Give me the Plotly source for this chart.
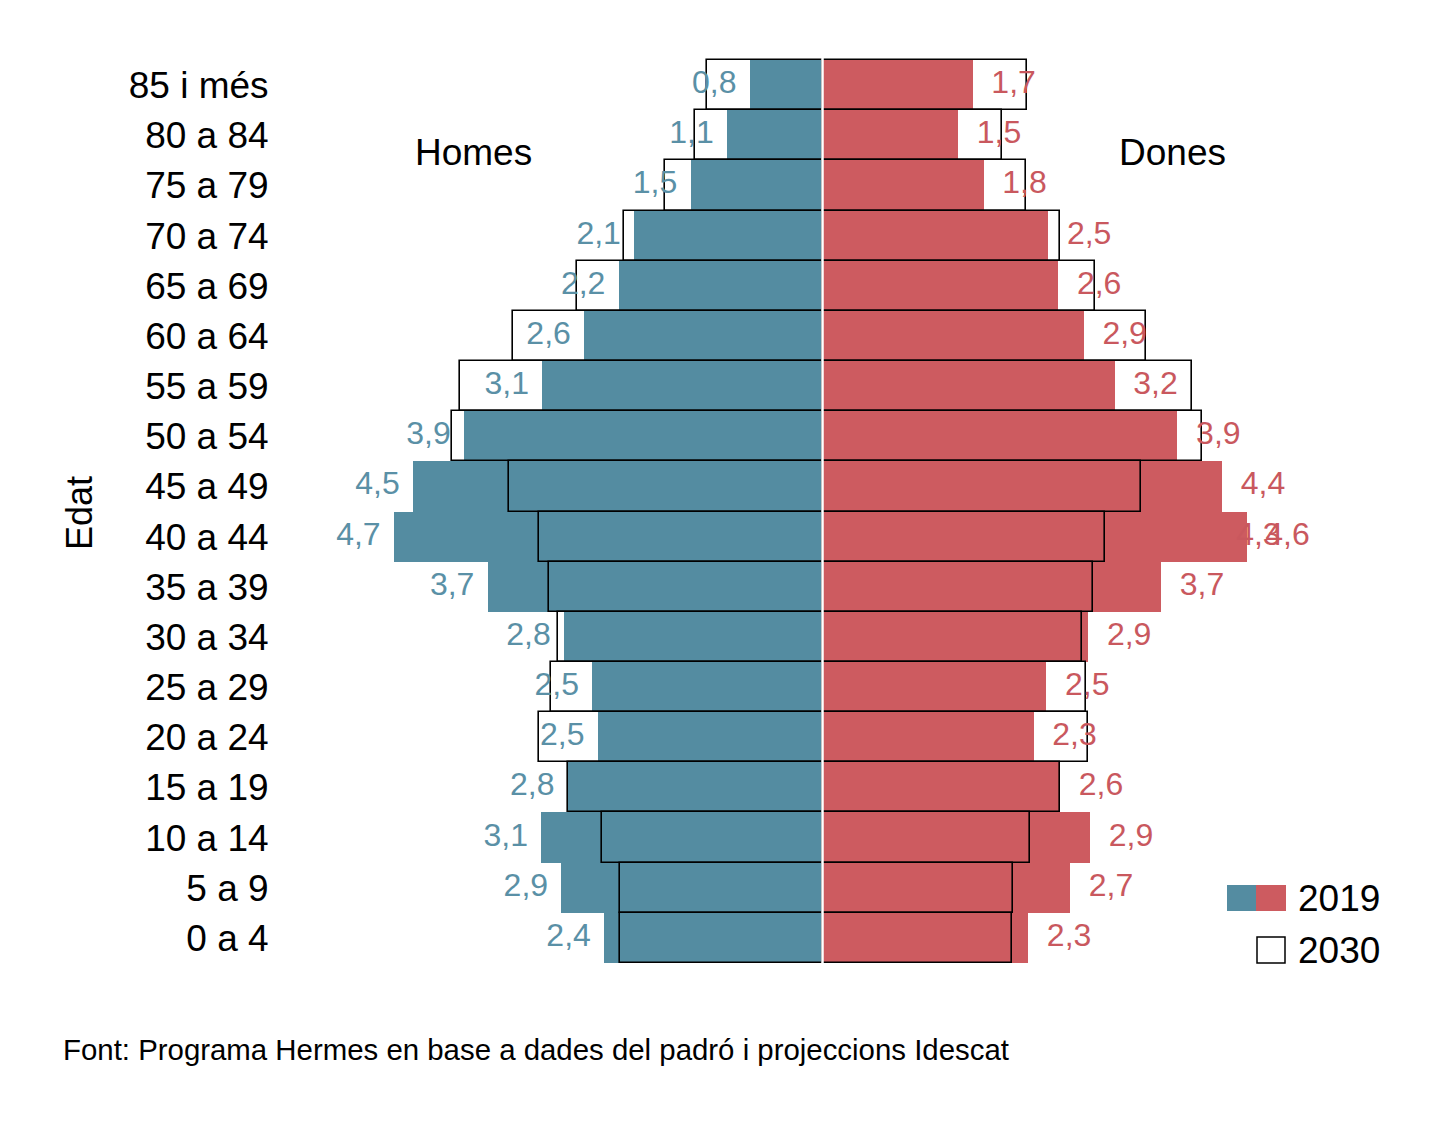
import plotly.graph_objects as go

# ---------------- data ----------------
ages = ["0 a 4", "5 a 9", "10 a 14", "15 a 19", "20 a 24", "25 a 29", "30 a 34",
        "35 a 39", "40 a 44", "45 a 49", "50 a 54", "55 a 59", "60 a 64", "65 a 69",
        "70 a 74", "75 a 79", "80 a 84", "85 i més"]

men_2019 = [2.40, 2.87, 3.09, 2.80, 2.47, 2.53, 2.84, 3.68, 4.71, 4.50, 3.94, 3.08,
            2.62, 2.24, 2.07, 1.45, 1.05, 0.80]
men_2030 = [2.22, 2.23, 2.42, 2.80, 3.11, 2.98, 2.91, 3.01, 3.12, 3.45, 4.07, 3.98,
            3.40, 2.70, 2.18, 1.73, 1.40, 1.27]
women_2019 = [2.26, 2.72, 2.94, 2.61, 2.32, 2.46, 2.92, 3.72, 4.66, 4.39, 3.90, 3.21,
              2.87, 2.59, 2.48, 1.77, 1.49, 1.65]
women_2030 = [2.08, 2.09, 2.28, 2.61, 2.92, 2.90, 2.85, 2.97, 3.10, 3.50, 4.17, 4.06,
              3.55, 2.99, 2.61, 2.24, 1.97, 2.25]

men_labels = ["2,4", "2,9", "3,1", "2,8", "2,5", "2,5", "2,8", "3,7", "4,7", "4,5",
              "3,9", "3,1", "2,6", "2,2", "2,1", "1,5", "1,1", "0,8"]
women_labels = ["2,3", "2,7", "2,9", "2,6", "2,3", "2,5", "2,9", "3,7", "4,6", "4,4",
                "3,9", "3,2", "2,9", "2,6", "2,5", "1,8", "1,5", "1,7"]

# duplicated entry visible in the source (overlapping label on 40 a 44, Dones)
women_extra_age = ["40 a 44"]
women_extra_2019 = [4.34]
women_extra_label = ["4,3"]

BLUE = "#548ca1"
RED = "#cd5b60"
BLUE_TXT = "#5a90a6"
RED_TXT = "#c9585e"
FONT = "Liberation Sans, Arial, Helvetica, sans-serif"

# page body margin offset (figure is drawn 8px from the window corner)
OFF = 8
W, H = 1441, 1122

# geometry in screen pixels
BAR_TOP, BAR_BOT = 60.0, 963.0
N = len(ages)
RH = (BAR_BOT - BAR_TOP) / N
PAD = 0.06                      # rows of padding so outline edges are not clipped
PLOT_L, PLOT_R = 278.0, 1344.0
CX = 822.5                      # screen pixel of zero
SCALE = 91.0                    # pixels per unit

top_s = BAR_TOP - PAD * RH
bot_s = BAR_BOT + PAD * RH
ML = PLOT_L - OFF
MT = top_s - OFF
PW = PLOT_R - PLOT_L
PH = bot_s - top_s
MR = W - ML - PW
MB = H - MT - PH
x_range = [-(CX - PLOT_L) / SCALE, (PLOT_R - CX) / SCALE]
y_range = [-0.5 - PAD, N - 0.5 + PAD]


def px(x):
    return (x - PLOT_L) / PW


def py(y):
    return (bot_s - y) / PH


MEN_OFF = 0.39
WOMEN_OFF = 0.45

fig = go.Figure()

# 2019 filled bars
fig.add_trace(go.Bar(y=ages, x=[-v for v in men_2019], orientation="h",
                     marker=dict(color=BLUE, line=dict(width=0)), name="Homes 2019",
                     showlegend=False, hoverinfo="skip"))
fig.add_trace(go.Bar(y=ages, x=women_2019, orientation="h",
                     marker=dict(color=RED, line=dict(width=0)), name="Dones 2019",
                     showlegend=False, hoverinfo="skip"))
fig.add_trace(go.Bar(y=women_extra_age, x=women_extra_2019, orientation="h",
                     marker=dict(color=RED, line=dict(width=0)),
                     showlegend=False, hoverinfo="skip"))

# 2030 outlines
fig.add_trace(go.Bar(y=ages, x=[-v for v in men_2030], orientation="h",
                     marker=dict(color="rgba(0,0,0,0)", line=dict(color="black", width=1.6)),
                     showlegend=False, hoverinfo="skip"))
fig.add_trace(go.Bar(y=ages, x=women_2030, orientation="h",
                     marker=dict(color="rgba(0,0,0,0)", line=dict(color="black", width=1.6)),
                     showlegend=False, hoverinfo="skip"))

# value labels (2019)
fig.add_trace(go.Scatter(y=ages, x=[-(v + MEN_OFF) for v in men_2019], mode="text",
                         text=men_labels, textposition="middle center",
                         textfont=dict(family=FONT, size=32, color=BLUE_TXT),
                         showlegend=False, hoverinfo="skip"))
fig.add_trace(go.Scatter(y=women_extra_age, x=[v + WOMEN_OFF for v in women_extra_2019],
                         mode="text", text=women_extra_label, textposition="middle center",
                         textfont=dict(family=FONT, size=32, color=RED_TXT),
                         showlegend=False, hoverinfo="skip"))
fig.add_trace(go.Scatter(y=ages, x=[v + WOMEN_OFF for v in women_2019], mode="text",
                         text=women_labels, textposition="middle center",
                         textfont=dict(family=FONT, size=32, color=RED_TXT),
                         showlegend=False, hoverinfo="skip"))

shapes = [
    # white centre line
    dict(type="line", xref="x", yref="paper", x0=0, x1=0, y0=0, y1=1,
         line=dict(color="white", width=2.5), layer="above"),
    # legend swatches
    dict(type="rect", xref="paper", yref="paper", x0=px(1227), x1=px(1256),
         y0=py(911), y1=py(885), fillcolor=BLUE, line=dict(width=0)),
    dict(type="rect", xref="paper", yref="paper", x0=px(1256), x1=px(1286),
         y0=py(911), y1=py(885), fillcolor=RED, line=dict(width=0)),
    dict(type="rect", xref="paper", yref="paper", x0=px(1257), x1=px(1285),
         y0=py(963), y1=py(937), fillcolor="white", line=dict(color="black", width=1.5)),
]

annotations = [
    dict(text="Homes", xref="paper", yref="paper", x=px(473), y=py(152),
         xanchor="center", yanchor="middle", showarrow=False,
         font=dict(family=FONT, size=37, color="black")),
    dict(text="Dones", xref="paper", yref="paper", x=px(1172), y=py(152),
         xanchor="center", yanchor="middle", showarrow=False,
         font=dict(family=FONT, size=37, color="black")),
    dict(text="Edat", xref="paper", yref="paper", x=px(80), y=py(513),
         xanchor="center", yanchor="middle", textangle=-90, showarrow=False,
         font=dict(family=FONT, size=36, color="black")),
    dict(text="2019", xref="paper", yref="paper", x=px(1296), y=py(899),
         xanchor="left", yanchor="middle", showarrow=False,
         font=dict(family=FONT, size=37, color="black")),
    dict(text="2030", xref="paper", yref="paper", x=px(1296), y=py(951),
         xanchor="left", yanchor="middle", showarrow=False,
         font=dict(family=FONT, size=37, color="black")),
    dict(text="Font: Programa Hermes en base a dades del padró i projeccions Idescat",
         xref="paper", yref="paper", x=px(61), y=py(1050),
         xanchor="left", yanchor="middle", showarrow=False,
         font=dict(family=FONT, size=29.4, color="black")),
]

fig.update_layout(
    width=W, height=H,
    margin=dict(l=ML, r=MR, t=MT, b=MB, autoexpand=False),
    barmode="overlay", bargap=0,
    paper_bgcolor="white", plot_bgcolor="white",
    font=dict(family=FONT, color="black"),
    xaxis=dict(range=x_range, visible=False, fixedrange=True),
    yaxis=dict(type="category", categoryorder="array", categoryarray=ages,
               range=y_range, showgrid=False, zeroline=False,
               showline=False, ticks="outside", ticklen=1,
               tickcolor="rgba(0,0,0,0)",
               tickfont=dict(family=FONT, size=37, color="black"), automargin=False),
    yaxis2=dict(overlaying="y", anchor="free", position=px(CX), side="right",
                range=y_range, showgrid=False, zeroline=False,
                showline=False, showticklabels=False, ticks="outside", ticklen=10,
                tickwidth=2, tickcolor="white",
                tickmode="array", tickvals=[i - 0.5 for i in range(N + 1)]),
    shapes=shapes, annotations=annotations, showlegend=False,
)

fig.write_html("out.html")
